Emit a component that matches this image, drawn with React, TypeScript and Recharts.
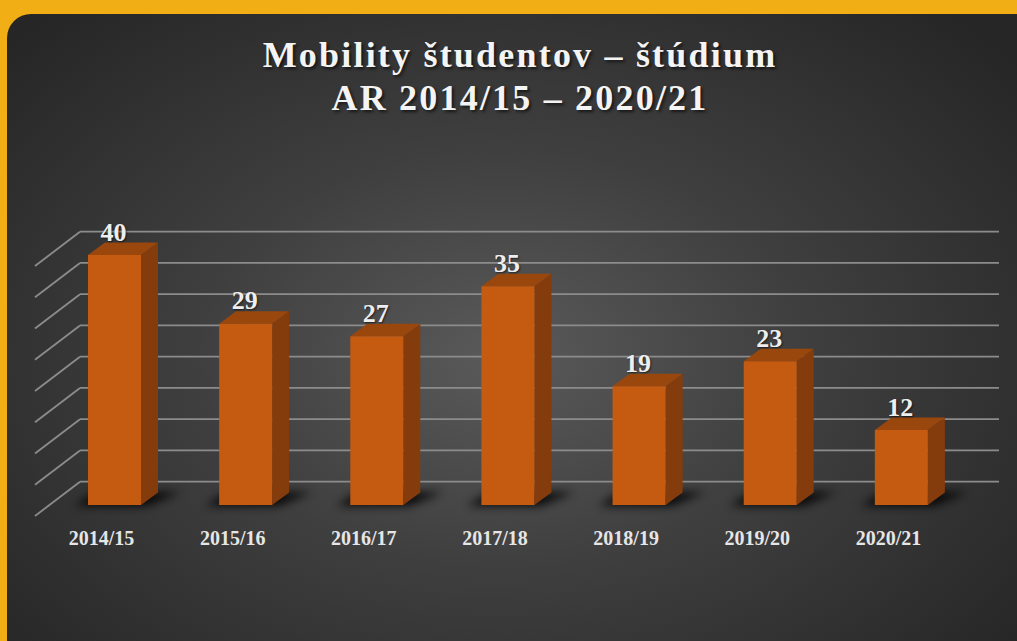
import React from "react";
import { BarChart, Bar, XAxis, YAxis, CartesianGrid, LabelList } from "recharts";

const years = ["2014/15", "2015/16", "2016/17", "2017/18", "2018/19", "2019/20", "2020/21"];
const students = [40, 29, 27, 35, 19, 23, 12];
const gridTicks = [0, 5, 10, 15, 20, 25, 30, 35, 40];

const data = years.map((year, i) => ({ year, pocet: students[i] }));

// 3D depth of bars / back wall
const DX = 17;
const DY = 12.5;
const FONT = "'Liberation Serif', 'Times New Roman', serif";

function GridLine(p: any) {
  const y = p.y1;
  const wallY = y - 23.3;
  return (
    <g key={p.key ?? `g-${y}`}>
      <line x1={p.x1 - 14} y1={y + 11} x2={p.x1 + 31} y2={wallY} stroke="#8c8c8c" strokeWidth={1.8} />
      <line x1={p.x1 + 31} y1={wallY} x2={p.x2 + 32} y2={wallY} stroke="#8c8c8c" strokeWidth={1.8} />
    </g>
  );
}

function Bar3D(props: any) {
  const { x, y, width, height, index } = props;
  const b = y + height;
  const fid = `bshadow-${index}`;
  return (
    <g>
      <defs>
        <filter id={fid} x="-50%" y="-200%" width="200%" height="500%">
          <feGaussianBlur stdDeviation="5" />
        </filter>
      </defs>
      <polygon
        points={`${x - 14},${b + 1} ${x + width + 6},${b + 1} ${x + width + 40},${b - 13} ${x + 8},${b - 13}`}
        fill="#000"
        opacity={0.85}
        filter={`url(#${fid})`}
      />
      <polygon
        points={`${x + width},${y} ${x + width + DX},${y - DY} ${x + width + DX},${b - DY} ${x + width},${b}`}
        fill="#843c0c"
      />
      <polygon
        points={`${x},${y} ${x + DX},${y - DY} ${x + width + DX},${y - DY} ${x + width},${y}`}
        fill="#9a470e"
      />
      <rect x={x} y={y} width={width} height={height} fill="#c55a11" />
    </g>
  );
}

function YearTick(props: any) {
  const { x, y, payload } = props;
  return (
    <text x={x - 13} y={y + 32} textAnchor="middle" fill="#e6e6e6" fontFamily={FONT} fontWeight="bold" fontSize={20}>
      {payload.value}
    </text>
  );
}

function ValueLabel(props: any) {
  const { x, y, width, value } = props;
  return (
    <text
      x={x + width / 2 - 1}
      y={y - 14.5}
      textAnchor="middle"
      fill="#eeeeee"
      fontFamily={FONT}
      fontWeight="bold"
      fontSize={26}
      style={{ textShadow: "1px 1px 2px rgba(0,0,0,0.6)" }}
    >
      {value}
    </text>
  );
}

export default function App() {
  return (
    <div style={{ position: "absolute", left: 0, top: 0, width: 1017, height: 641, background: "#f2af15", overflow: "hidden" }}>
      <div
        style={{
          position: "absolute",
          left: 7,
          top: 14,
          width: 1030,
          height: 660,
          borderTopLeftRadius: 24,
          background: "radial-gradient(ellipse 65% 70% at 48% 52%, #5a5a5a 0%, #3f3f3f 45%, #262626 100%)",
        }}
      />
      <div
        style={{
          position: "absolute",
          left: 0,
          top: 33.5,
          width: 1040,
          textAlign: "center",
          color: "#f4f4f4",
          fontFamily: FONT,
          fontWeight: "bold",
          fontSize: 36,
          lineHeight: "43px",
          letterSpacing: 2.2,
          textShadow: "2px 2px 3px rgba(0,0,0,0.6)",
        }}
      >
        <div>Mobility študentov – štúdium</div>
        <div>AR 2014/15 – 2020/21</div>
      </div>
      <div style={{ position: "absolute", left: 0, top: 0 }}>
        <BarChart width={1017} height={641} data={data} margin={{ top: 255, right: 50, bottom: 106, left: 49 }}>
          <CartesianGrid vertical={false} horizontal={GridLine} />
          <XAxis dataKey="year" height={30} axisLine={false} tickLine={false} tick={YearTick} interval={0} />
          <YAxis hide domain={[0, 40]} ticks={gridTicks} />
          <Bar dataKey="pocet" barSize={53} shape={Bar3D} isAnimationActive={false}>
            <LabelList dataKey="pocet" content={ValueLabel} />
          </Bar>
        </BarChart>
      </div>
    </div>
  );
}
